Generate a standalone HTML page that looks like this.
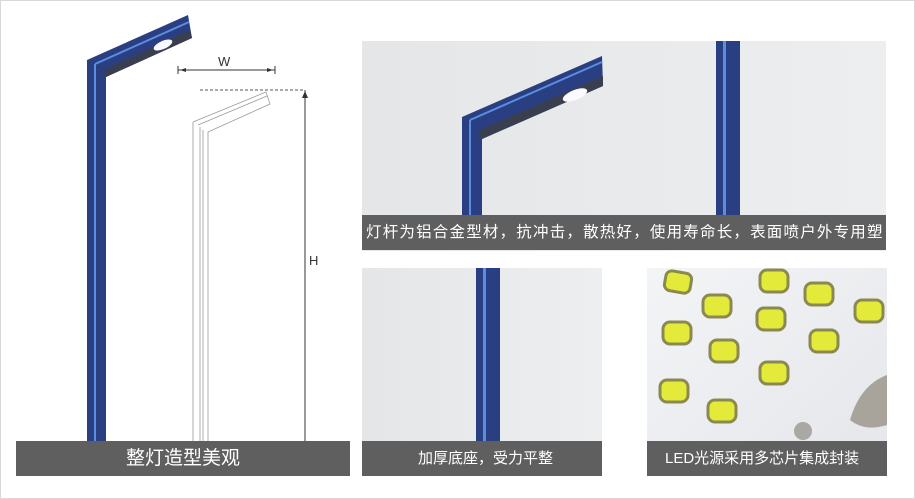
<!DOCTYPE html>
<html><head><meta charset="utf-8"><style>
html,body{margin:0;padding:0;background:#fff}
body{width:915px;height:499px;position:relative;overflow:hidden;font-family:"Liberation Sans","Noto Sans CJK SC",sans-serif}
.frame{position:absolute;left:0;top:0;width:913px;height:497px;border:1px solid #d8d8d8}
.cap{position:absolute;background:#5f5f5f;color:#fff;font-size:16px;line-height:35px;white-space:nowrap}
</style></head><body>
<div class="frame"></div>
<svg width="915" height="499" style="position:absolute;left:0;top:0">
<defs>
<linearGradient id="bg" x1="0" x2="1"><stop offset="0" stop-color="#e4e6e8"/><stop offset="1" stop-color="#eceef0"/></linearGradient>
<linearGradient id="led" x1="0" x2="1" y1="0" y2="1"><stop offset="0" stop-color="#f2f4f6"/><stop offset="1" stop-color="#e4e6ea"/></linearGradient>
</defs>
<path d="M87,60 L188,15 L192,38 L106,77 L106,441 L87,441 Z" fill="#2a3f82"/>
<path d="M95,64 L189,22 M95,64 L95,441" stroke="#5b8de0" stroke-width="2" fill="none"/>
<path d="M106,77 L192,38 L190,30 L104,70 Z" fill="#3a3f50"/>
<ellipse cx="163" cy="45" rx="10" ry="4" fill="#f8f8ff" transform="rotate(-24 163 45)"/>
<path d="M193,122 L266,92 L270,104 L208,132 L208,441 M193,122 L193,441 M198,125 L267,96 M200,127 L200,441 M203,130 L203,441" stroke="#9a9a9a" stroke-width="0.8" fill="none"/>
<line x1="178" y1="70" x2="275" y2="70" stroke="#333" stroke-width="1"/>
<path d="M178,66 L178,74 M275,66 L275,74" stroke="#333"/>
<path d="M180,70 l6,-2 v4 Z M273,70 l-6,-2 v4 Z" fill="#333"/>
<text x="218" y="66" font-size="13" fill="#333">W</text>
<line x1="200" y1="90" x2="305" y2="90" stroke="#555" stroke-dasharray="3,2"/>
<line x1="305" y1="90" x2="305" y2="441" stroke="#333"/>
<path d="M305,91 l-3,7 h6 Z" fill="#333"/>
<text x="309" y="265" font-size="13" fill="#333">H</text>
<rect x="362" y="41" width="524" height="210" fill="url(#bg)"/>
<path d="M462,117 L602,56 L603,86 L482,139 L482,215 L462,215 Z" fill="#2a3f82"/>
<path d="M470,120 L602,62 M470,120 L470,215" stroke="#5b8de0" stroke-width="2" fill="none"/>
<path d="M482,139 L603,86 L603,76 L478,131 Z" fill="#3a3f50"/>
<ellipse cx="575" cy="95" rx="13" ry="5" fill="#fafaff" transform="rotate(-22 575 95)"/>
<rect x="716" y="41" width="24" height="174" fill="#2a3f82"/>
<rect x="723" y="41" width="3" height="174" fill="#5b8de0"/>
<rect x="362" y="268" width="240" height="208" fill="url(#bg)"/>
<rect x="476" y="268" width="24" height="173" fill="#2a3f82"/>
<rect x="483" y="268" width="3" height="173" fill="#5b8de0"/>
<rect x="647" y="268" width="240" height="208" fill="url(#led)"/>
<g fill="#e4ea3a" stroke="#8a8a50" stroke-width="3">
<rect x="665" y="272" width="26" height="20" rx="6" transform="rotate(10 678 282)"/>
<rect x="703" y="295" width="28" height="22" rx="7"/>
<rect x="760" y="270" width="28" height="22" rx="7"/>
<rect x="805" y="283" width="28" height="22" rx="7"/>
<rect x="855" y="300" width="28" height="22" rx="7"/>
<rect x="757" y="308" width="28" height="22" rx="7"/>
<rect x="663" y="322" width="28" height="22" rx="7"/>
<rect x="710" y="340" width="28" height="22" rx="7"/>
<rect x="810" y="330" width="28" height="22" rx="7"/>
<rect x="760" y="362" width="28" height="22" rx="7"/>
<rect x="660" y="380" width="28" height="22" rx="7"/>
<rect x="708" y="400" width="28" height="22" rx="7"/>
</g>
<path d="M850,420 Q860,385 887,375 L887,425 Q865,432 850,420 Z" fill="#a8a49c"/>
<circle cx="803" cy="431" r="9" fill="#aaa8a4"/>
<rect x="16" y="441" width="334" height="35" fill="#5f5f5f"/>
</svg>
<div class="cap" style="left:16px;top:441px;width:334px;text-align:center;font-size:19px">整灯造型美观</div>
<div class="cap" style="left:362px;top:215px;width:524px;padding-left:4px;box-sizing:border-box;font-size:15.5px;letter-spacing:1.2px;overflow:hidden">灯杆为铝合金型材，抗冲击，散热好，使用寿命长，表面喷户外专用塑</div>
<div class="cap" style="left:362px;top:441px;width:240px;padding-left:56px;box-sizing:border-box;font-size:15px">加厚底座，受力平整</div>
<div class="cap" style="left:647px;top:441px;width:240px;padding-left:18px;box-sizing:border-box;font-size:15px">LED光源采用多芯片集成封装</div>
</body></html>
